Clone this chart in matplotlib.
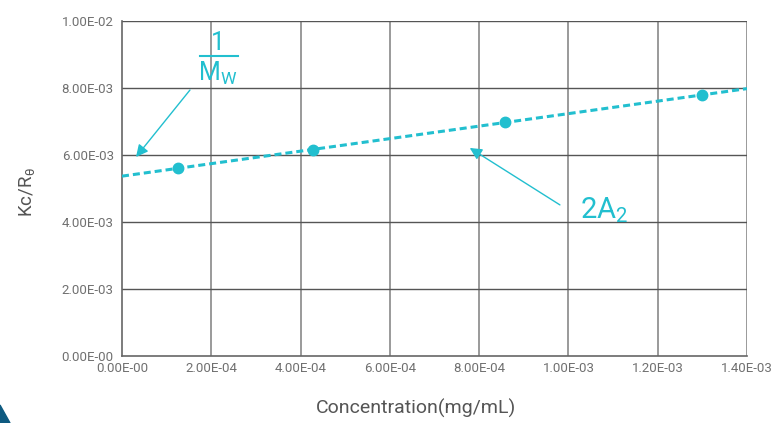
import numpy as np
import matplotlib
matplotlib.use("Agg")
import matplotlib.pyplot as plt
from matplotlib.patches import Polygon

plt.rcParams['font.family'] = ['Roboto', 'DejaVu Sans']
plt.rcParams['mathtext.fontset'] = 'custom'
plt.rcParams['mathtext.rm'] = 'Roboto'
plt.rcParams['mathtext.it'] = 'Roboto'

# data
conc = [1.25e-4, 4.28e-4, 8.58e-4, 1.299e-3]
kc_r = [5.61e-3, 6.15e-3, 6.98e-3, 7.79e-3]
x_ticks = [0, 2e-4, 4e-4, 6e-4, 8e-4, 1e-3, 1.2e-3, 1.4e-3]
x_labels = ['0.00E-00', '2.00E-04', '4.00E-04', '6.00E-04', '8.00E-04',
            '1.00E-03', '1.20E-03', '1.40E-03']
y_ticks = [0, 2e-3, 4e-3, 6e-3, 8e-3, 1e-2]
y_labels = ['0.00E-00', '2.00E-03', '4.00E-03', '6.00E-03', '8.00E-03', '1.00E-02']

cyan = '#22bfcf'
txt = '#707070'

fig = plt.figure(figsize=(7.76, 4.23), dpi=100)
ax = fig.add_axes([0.1572, 0.1584, 0.8054, 0.792])

# fitted line
slope, icpt = np.polyfit(conc, kc_r, 1)
xl = np.array([0, 1.4e-3])
ax.plot(xl, icpt + slope * xl, color=cyan, lw=2.2, dashes=(2.3, 1.3), zorder=3)
ax.plot(conc, kc_r, 'o', color=cyan, ms=7.5, zorder=4)

ax.set_xlim(0, 1.4e-3)
ax.set_ylim(0, 1e-2)
ax.set_xticks(x_ticks)
ax.set_xticklabels(x_labels)
ax.set_yticks(y_ticks)
ax.set_yticklabels(y_labels)
ax.tick_params(length=0, labelsize=9.5, colors=txt, pad=6)
ax.tick_params(axis='x', pad=4)

for v in x_ticks[1:]:
    ax.axvline(v, color='#9a9a9a', lw=1.4, zorder=1)
for v in y_ticks[1:]:
    ax.axhline(v, color='#555555', lw=1.0, zorder=1)
for s in ['top', 'right']:
    ax.spines[s].set_visible(False)
for s in ['left', 'bottom']:
    ax.spines[s].set_color('#666666')
    ax.spines[s].set_linewidth(1.2)

ax.set_xlabel('Concentration(mg/mL)', fontsize=14, color='#555555')
ax.xaxis.set_label_coords(0.470, -0.128)
ax.set_ylabel(r'Kc/R$_\theta$', fontsize=13.5, color='#555555')
ax.yaxis.set_label_coords(-0.136, 0.49)

# annotations
ax.annotate('', xy=(0.314e-4, 5.94e-3), xytext=(1.523e-4, 7.94e-3),
            arrowprops=dict(arrowstyle='-|>', color=cyan, lw=1, mutation_scale=18,
                            shrinkA=0, shrinkB=0))
ax.annotate('', xy=(7.79e-4, 6.21e-3), xytext=(9.81e-4, 4.51e-3),
            arrowprops=dict(arrowstyle='-|>', color=cyan, lw=1, mutation_scale=18,
                            shrinkA=0, shrinkB=0))

ax.text(0.1536, 0.935, '1', transform=ax.transAxes, ha='center', va='center',
        fontsize=18, color=cyan)
ax.plot([0.1248, 0.1856], [0.8955, 0.8955], transform=ax.transAxes,
        color=cyan, lw=1.5, clip_on=False)
ax.text(0.1536, 0.845, r'M$_\mathrm{W}$', transform=ax.transAxes, ha='center',
        va='center', fontsize=18, color=cyan)
ax.text(1.026e-3, 4.35e-3, r'2A$_2$', ha='left', va='center', fontsize=21, color=cyan)

# corner decoration
fig.patches.append(Polygon([[0, 0], [10 / 776, 0], [0, 18 / 423]], closed=True,
                           transform=fig.transFigure, color='#0e5a80'))

fig.savefig('out.png', dpi=100)
